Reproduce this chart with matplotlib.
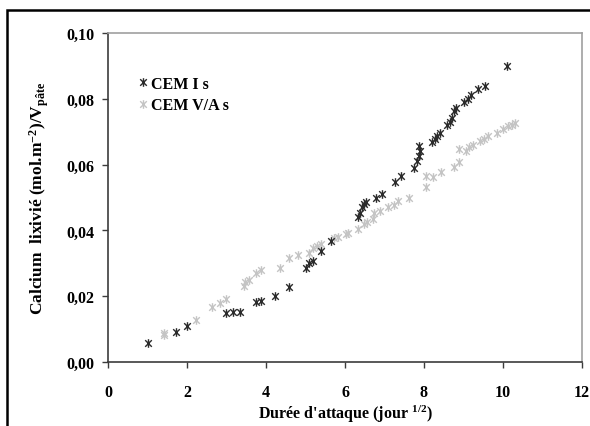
import matplotlib.pyplot as plt
import numpy as np
from matplotlib.path import Path
from matplotlib.patches import Rectangle
from matplotlib.ticker import FuncFormatter

# CEM I s
x_cem1 = [1.0, 1.72, 1.99, 2.99, 3.17, 3.33, 3.75, 3.87, 4.23, 4.58, 5.0, 5.1, 5.18, 5.39, 5.65,
          6.32, 6.37, 6.43, 6.49, 6.54, 6.78, 6.94, 7.27, 7.42, 7.75, 7.82, 7.87, 7.91, 7.88,
          8.2, 8.27, 8.34, 8.4, 8.59, 8.66, 8.7, 8.75, 8.8, 9.02, 9.11, 9.2, 9.37, 9.54, 10.1]
y_cem1 = [0.0057, 0.0092, 0.0108, 0.0149, 0.0151, 0.0153, 0.0181, 0.0186, 0.0202, 0.0229, 0.0286,
          0.0300, 0.0308, 0.0336, 0.0367, 0.0442, 0.0454, 0.0470, 0.0480, 0.0485, 0.0497, 0.0510,
          0.0546, 0.0566, 0.0591, 0.0611, 0.0627, 0.0642, 0.0657, 0.0669, 0.0679, 0.0687, 0.0695,
          0.0720, 0.0728, 0.0743, 0.0763, 0.0773, 0.0791, 0.0800, 0.0811, 0.0829, 0.0839, 0.0900]

# CEM V/A s
x_cemv = [1.41, 1.41, 2.23, 2.63, 2.83, 2.99, 3.45, 3.47, 3.58, 3.75, 3.87, 4.36, 4.58, 4.8, 5.1,
          5.18, 5.3, 5.39, 5.73, 5.82, 6.02, 6.08, 6.33, 6.49, 6.56, 6.7, 6.73, 6.89, 7.08, 7.23,
          7.35, 7.63, 8.06, 8.06, 8.23, 8.44, 8.75, 8.89, 8.88, 9.06, 9.13, 9.23, 9.42, 9.51,
          9.63, 9.85, 9.99, 10.13, 10.23, 10.31]
y_cemv = [0.0082, 0.0089, 0.0129, 0.0166, 0.0179, 0.0193, 0.0230, 0.0242, 0.0250, 0.0269, 0.0281,
          0.0285, 0.0315, 0.0325, 0.0331, 0.0348, 0.0354, 0.0360, 0.0376, 0.0381, 0.0389, 0.0391,
          0.0405, 0.0420, 0.0427, 0.0434, 0.0454, 0.0460, 0.0470, 0.0478, 0.0488, 0.0500, 0.0533,
          0.0566, 0.0563, 0.0576, 0.0594, 0.0608, 0.0647, 0.0642, 0.0652, 0.0659, 0.0672, 0.0679,
          0.0687, 0.0697, 0.0707, 0.0716, 0.0720, 0.0726]

plt.rcParams['font.family'] = 'Liberation Serif'
plt.rcParams['font.weight'] = 'bold'
plt.rcParams['mathtext.fontset'] = 'custom'
plt.rcParams['mathtext.rm'] = 'Liberation Serif:bold'
plt.rcParams['mathtext.it'] = 'Liberation Serif:bold'
plt.rcParams['mathtext.bf'] = 'Liberation Serif:bold'
plt.rcParams['mathtext.default'] = 'rm'
plt.rcParams['axes.unicode_minus'] = False

# star marker: X with a vertical bar
star = Path([(-1, -1), (1, 1), (-1, 1), (1, -1), (0, -1.3), (0, 1.3)],
            [Path.MOVETO, Path.LINETO, Path.MOVETO, Path.LINETO, Path.MOVETO, Path.LINETO])

fig = plt.figure(figsize=(5.9, 4.27), dpi=100)
ax = fig.add_axes([108/590, 1-363/427, 474/590, 329/427])

ax.plot(x_cem1, y_cem1, ls='none', marker=star, ms=6.2, mec='#2b2b2b', mew=1.0, label='CEM I s', zorder=3)
ax.plot(x_cemv, y_cemv, ls='none', marker=star, ms=6.2, mec='#c4c4c4', mew=1.0, label='CEM V/A s', zorder=2)

ax.set_xlim(0, 12)
ax.set_ylim(0, 0.10)
ax.set_xticks(np.arange(0, 13, 2))
ax.set_yticks(np.arange(0, 0.101, 0.02))
ax.yaxis.set_major_formatter(FuncFormatter(lambda v, p: f'{v:.2f}'.replace('.', ',')))

for s in ['left', 'bottom']:
    ax.spines[s].set_color('#3c3c3c')
    ax.spines[s].set_linewidth(1.2)
for s in ['top', 'right']:
    ax.spines[s].set_color('#a0a0a0')
    ax.spines[s].set_linewidth(1.2)

ax.tick_params(axis='both', labelsize=11.5, color='#3c3c3c', width=1.0, length=4)
ax.tick_params(axis='x', pad=12)
ax.tick_params(axis='y', pad=6)

ax.set_xlabel("Durée d'attaque (jour $^{1/2}$)", fontsize=11.5, fontweight='bold', labelpad=2)
ax.set_ylabel("Calcium  lixivié (mol.m$^{-2}$)/V$_{pâte}$", fontsize=12.5,
              fontweight='bold', labelpad=11)

ax.legend(loc='upper left', bbox_to_anchor=(0.05, 0.89), frameon=False, fontsize=11.5,
          handlelength=0.6, handletextpad=0.2, labelspacing=0.35, borderaxespad=0)

fig.patches.append(Rectangle((7/590, -0.2), 1.2, 1.2 - 11/427, transform=fig.transFigure,
                             fill=False, ec='black', lw=1.8, zorder=10))

plt.savefig('out.png', dpi=100)
